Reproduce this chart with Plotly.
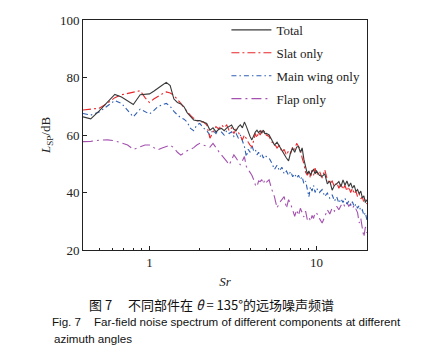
import plotly.graph_objects as go

# Strouhal number grid
sr = [0.40, 0.445, 0.50, 0.56, 0.62, 0.68, 0.74, 0.80, 0.88, 0.94, 1.00, 1.06, 1.12, 1.19, 1.26, 1.33, 1.40, 1.47, 1.54, 1.61, 1.68, 1.76, 1.84, 1.92,
      2.0, 2.1, 2.2, 2.3, 2.4, 2.5, 2.6, 2.7, 2.8, 2.9, 3.0, 3.1, 3.2, 3.3, 3.4, 3.5, 3.6, 3.7, 3.8, 3.9, 4.0, 4.1, 4.2, 4.3, 4.4, 4.5, 4.6, 4.7, 4.8, 4.9, 5.0,
      5.2, 5.4, 5.6, 5.8, 6.0, 6.2, 6.4, 6.6, 6.8, 7.0, 7.2, 7.4, 7.6, 7.8, 8.0, 8.2, 8.4, 8.6, 8.8, 9.0, 9.2, 9.4, 9.6, 9.8, 10.0,
      10.4, 10.8, 11.2, 11.6, 12.0, 12.4, 12.8, 13.2, 13.6, 14.0, 14.4, 14.8, 15.2, 15.6, 16.0, 16.4, 16.8, 17.2, 17.6, 18.0, 18.4, 18.8, 19.2, 19.6, 20.0]

total = [66.3, 65.6, 68.4, 71.4, 74.1, 73.2, 71.8, 70.6, 74.0, 74.1, 74.3, 75.2, 76.3, 77.3, 78.3, 77.2, 72.5, 71.3, 70.8, 69.8, 67.8, 66.5, 65.2, 65.0,
         65.0, 64.5, 64.0, 61.7, 62.5, 61.1, 62.0, 62.3, 61.5, 62.5, 63.0, 63.5, 62.0, 61.5, 62.8, 63.5, 62.5, 64.5, 63.0, 61.1, 59.5, 58.3, 60.0, 61.0, 61.7, 60.8, 61.5, 60.6, 61.7, 60.5, 60.6,
         60.0, 58.3, 56.5, 57.5, 56.0, 54.5, 53.0, 52.0, 51.0, 54.0, 55.4, 54.0, 55.8, 56.0, 54.0, 55.5, 51.5, 48.5, 46.5, 47.5, 46.0, 47.5, 48.0, 46.5, 47.5,
         46.0, 45.6, 46.5, 43.0, 44.0, 40.8, 42.5, 43.0, 43.8, 42.0, 44.4, 42.5, 44.0, 42.1, 43.3, 41.5, 42.5, 40.4, 41.0, 39.5, 40.5, 38.1, 38.8, 36.5, 37.5]

slat = [68.7, 69.0, 69.3, 71.0, 73.0, 74.0, 74.5, 75.0, 75.4, 73.0, 71.3, 72.5, 73.5, 74.3, 75.0, 74.6, 73.8, 72.5, 71.0, 69.5, 68.0, 66.8, 65.8, 65.0,
        64.5, 64.6, 63.5, 58.9, 61.0, 62.9, 62.0, 63.5, 62.5, 63.5, 61.5, 62.5, 60.5, 62.0, 61.0, 59.5, 58.3, 60.0, 58.5, 57.5, 56.5, 55.9, 58.0, 60.5, 59.0, 61.0, 60.0, 61.5, 60.5, 61.5, 60.0,
        59.5, 57.5, 57.0, 55.5, 56.5, 54.0, 55.0, 53.0, 54.5, 53.5, 56.0, 55.0, 57.1, 56.0, 55.0, 52.0, 50.0, 47.0, 46.0, 47.0, 45.0, 47.8, 46.0, 48.5, 46.0,
        47.5, 45.0, 47.9, 44.5, 43.0, 44.0, 42.0, 43.5, 41.5, 43.0, 41.0, 42.5, 40.5, 42.0, 40.0, 41.5, 39.5, 40.5, 38.5, 39.5, 37.8, 38.5, 36.5, 37.5, 36.0]

main_wing = [67.5, 66.9, 68.0, 70.0, 72.0, 71.0, 68.5, 66.3, 69.0, 68.2, 67.3, 68.5, 69.8, 70.5, 71.0, 70.0, 68.2, 67.0, 66.0, 65.5, 64.5, 62.3, 61.5, 63.5,
             64.0, 62.5, 61.5, 60.0, 61.7, 60.5, 62.3, 61.0, 60.0, 61.5, 60.5, 61.1, 59.5, 60.5, 59.0, 60.0, 58.0, 56.0, 52.5, 55.0, 54.0, 56.5, 54.5, 55.0, 53.1, 54.0, 52.5, 53.5, 52.0, 53.0, 52.5,
             52.0, 50.2, 48.0, 49.5, 47.5, 48.8, 46.5, 47.5, 46.0, 47.3, 45.5, 46.5, 45.0, 46.0, 44.5, 45.5, 43.0, 44.0, 41.5, 38.5, 42.0, 40.5, 42.5, 40.0, 41.5,
             40.0, 41.0, 38.6, 39.8, 38.0, 39.2, 37.0, 38.5, 36.3, 37.8, 36.5, 38.0, 36.0, 37.0, 35.5, 36.8, 35.0, 36.0, 34.5, 35.5, 33.5, 34.0, 32.0, 33.0, 30.5]

flap = [57.7, 57.8, 58.2, 58.3, 58.0, 57.3, 56.5, 55.0, 56.0, 56.5, 56.5, 55.5, 54.8, 55.5, 56.0, 56.5, 55.5, 54.0, 53.0, 53.8, 54.5, 55.0, 55.6, 56.5,
        57.1, 56.5, 56.0, 55.8, 57.1, 55.5, 54.2, 53.0, 52.0, 50.8, 49.6, 51.5, 53.1, 52.0, 50.5, 49.6, 51.0, 52.5, 49.0, 48.0, 47.3, 46.0, 44.5, 42.7, 42.0, 44.0, 43.8, 44.5, 43.0, 44.4, 43.5,
        44.4, 41.0, 38.5, 34.6, 36.5, 37.5, 38.6, 34.5, 37.5, 36.0, 33.5, 31.7, 34.0, 32.0, 34.5, 33.0, 31.5, 33.5, 30.6, 31.5, 30.0, 32.0, 31.0, 33.0, 32.9,
        31.0, 29.4, 31.5, 34.0, 32.5, 34.6, 33.5, 35.2, 34.0, 35.5, 36.3, 35.0, 36.5, 35.2, 36.0, 34.5, 35.5, 34.0, 33.0, 29.4, 31.0, 27.5, 24.5, 28.0, 26.0]

names = ["Total", "Slat only", "Main wing only", "Flap only"]
x_major = [1, 10]
x_minor = [0.4, 0.5, 0.6, 0.7, 0.8, 0.9, 2, 3, 4, 5, 6, 7, 8, 9, 20]
y_ticks = [20, 40, 60, 80, 100]

serif = "Liberation Serif, Times New Roman, serif"

styles = [
    dict(color="#3a3a3a", dash="solid", width=1.1),
    dict(color="#e8262a", dash="8px,3px,2px,3px", width=1.1),
    dict(color="#2f5fb3", dash="5px,3px,1.5px,3px", width=1.1),
    dict(color="#a451b0", dash="10px,4px,2px,4px", width=1.1),
]
series = [total, slat, main_wing, flap]

fig = go.Figure()
# draw from back (Flap) to front (Total); legend order via legendrank
for i in [3, 2, 1, 0]:
    fig.add_trace(go.Scatter(x=sr, y=series[i], mode="lines", name=names[i], line=styles[i],
                             legendgroup=names[i], legendrank=i + 1))

fig.update_layout(
    width=423, height=349,
    margin=dict(l=83, r=56, t=19.5, b=98.5),
    paper_bgcolor="white", plot_bgcolor="white",
    font=dict(family=serif, size=13, color="#222"),
    showlegend=True,
    legend=dict(x=0.505, y=1.022, xanchor="left", yanchor="top", bgcolor="rgba(0,0,0,0)",
                font=dict(family=serif, size=13, color="#222"), traceorder="grouped",
                tracegroupgap=3, itemwidth=40),
)
fig.update_xaxes(type="log", range=[-0.398, 1.302], tickvals=x_major, ticktext=["1", "10"],
                 ticks="inside", ticklen=4, tickcolor="#222", showline=True, linecolor="#222", linewidth=1,
                 mirror=True, showgrid=False, zeroline=False,
                 tickfont=dict(family=serif, size=13, color="#222"),
                 minor=dict(tickvals=x_minor, ticks="inside", ticklen=2.5, tickcolor="#222", showgrid=False),
                 title=dict(text="<i>Sr</i>", font=dict(family=serif, size=13, color="#222"), standoff=8))
fig.update_yaxes(range=[20, 100], tickvals=y_ticks,
                 ticks="inside", ticklen=4, tickcolor="#222", showline=True, linecolor="#222", linewidth=1,
                 mirror=True, showgrid=False, zeroline=False,
                 tickfont=dict(family=serif, size=13, color="#222"),
                 title=dict(text="<i>L</i><sub>SP</sub>/dB", font=dict(family=serif, size=13, color="#222"), standoff=6))

cap_zh = "图 7　 不同部件在 <i>θ</i> = 135°的远场噪声频谱"
cap_en1 = "Fig. 7    Far-field noise spectrum of different components at different"
cap_en2 = "azimuth angles"
sans = "Liberation Sans, Noto Sans CJK SC, sans-serif"
fig.add_annotation(text=cap_zh, xref="paper", yref="paper", x=(87 - 83) / 283.7, y=(250.5 - 305) / 231,
                   xanchor="left", yanchor="middle", showarrow=False,
                   font=dict(family="Noto Sans CJK SC, Liberation Sans", size=13, color="#111"))
fig.add_annotation(text=cap_en1, xref="paper", yref="paper", x=(50 - 83) / 283.7, y=(250.5 - 322) / 231,
                   xanchor="left", yanchor="middle", showarrow=False,
                   font=dict(family=sans, size=11.6, color="#111"))
fig.add_annotation(text=cap_en2, xref="paper", yref="paper", x=(52 - 83) / 283.7, y=(250.5 - 339) / 231,
                   xanchor="left", yanchor="middle", showarrow=False,
                   font=dict(family=sans, size=11.6, color="#111"))

fig.write_html("out.html")
